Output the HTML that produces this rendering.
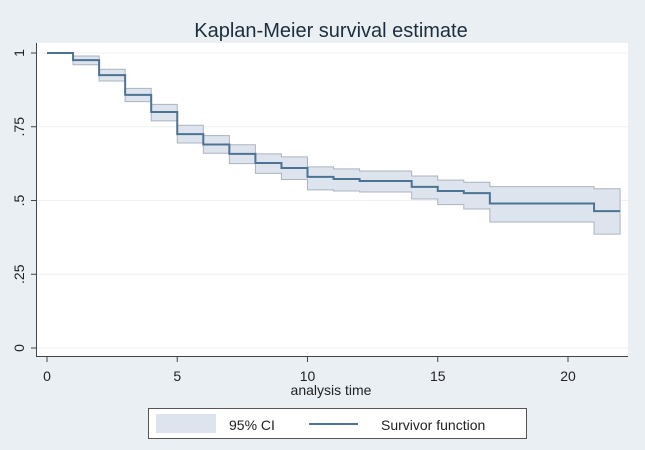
<!DOCTYPE html>
<html><head><meta charset="utf-8"><style>
html,body{margin:0;padding:0;background:#eaeff4;}
svg{display:block;font-family:"Liberation Sans",sans-serif;}
</style></head><body>
<svg id="chart" width="645" height="450">
<rect x="0" y="0" width="645" height="450" fill="#eaeff4"/>
<rect x="37" y="43" width="591" height="313" fill="#ffffff"/>
<text x="331" y="37" text-anchor="middle" font-size="20" fill="#1e2d3c">Kaplan-Meier survival estimate</text>
<g id="grid"></g>
<g id="band"></g>
<g id="line"></g>
<g id="axes"></g>
<text x="331" y="395" text-anchor="middle" font-size="14" fill="#222">analysis time</text>
<g>
<rect x="148.5" y="408.5" width="378" height="30" fill="#fff" stroke="#555" stroke-width="1"/>
<rect x="156" y="414" width="60" height="19" fill="#dde4ee"/>
<text x="229" y="430" font-size="14" fill="#222">95% CI</text>
<line x1="309" y1="424" x2="358" y2="424" stroke="#4d7394" stroke-width="2"/>
<text x="381" y="430" font-size="14" fill="#222">Survivor function</text>
</g>
</svg>
<script>
const times=[0,1,2,3,4,5,6,7,8,9,10,11,12,14,15,16,17,21,22];
const surv=[1,0.976,0.925,0.858,0.8,0.725,0.69,0.658,0.627,0.61,0.58,0.573,0.566,0.546,0.532,0.525,0.49,0.464,0.464];
const lower=[1,0.96,0.905,0.835,0.77,0.695,0.66,0.625,0.592,0.571,0.536,0.532,0.529,0.505,0.486,0.471,0.427,0.386,0.386];
const upper=[1,0.99,0.945,0.88,0.826,0.755,0.72,0.689,0.658,0.648,0.614,0.607,0.6,0.583,0.569,0.562,0.547,0.54,0.54];
const xTicks=[0,5,10,15,20];
const yTicks=[0,0.25,0.5,0.75,1];
const yTickLabels=["0",".25",".5",".75","1"];
const NS="http://www.w3.org/2000/svg";
const X=v=>47+v*26.05;
const Y=v=>348-v*295;
function mk(tag,attrs,parent){const e=document.createElementNS(NS,tag);for(const k in attrs)e.setAttribute(k,attrs[k]);document.getElementById(parent).appendChild(e);return e;}
function stepPts(arr){let p=[];for(let i=0;i<times.length;i++){if(i>0)p.push([X(times[i]),Y(arr[i-1])]);p.push([X(times[i]),Y(arr[i])]);}return p;}
// grid
yTicks.forEach((t,i)=>{
 const g=mk('line',{x1:37,x2:628,y1:Y(t),y2:Y(t),stroke:'#eef1f4','stroke-width':1},'grid');
 
 
});
// band
const up=stepPts(upper),lo=stepPts(lower);
const poly=up.concat(lo.reverse()).map(p=>p.join(',')).join(' ');
const band=mk('polygon',{points:poly,fill:'#dde4ee',stroke:'#a9b4bf','stroke-width':1},'band');


const ln=mk('polyline',{points:stepPts(surv).map(p=>p.join(',')).join(' '),fill:'none',stroke:'#4d7394','stroke-width':2},'line');


// axes
const ya=mk('line',{x1:36.5,x2:36.5,y1:43,y2:357,stroke:'#444','stroke-width':1},'axes');


const xa=mk('line',{x1:36,x2:628,y1:356.5,y2:356.5,stroke:'#444','stroke-width':1},'axes');


xTicks.forEach(t=>{
 const tk=mk('line',{x1:X(t),x2:X(t),y1:357,y2:362,stroke:'#444'},'axes');
 
 
 const tx=mk('text',{x:X(t),y:381,'text-anchor':'middle','font-size':14,fill:'#222'},'axes');
 tx.textContent=t;
 
 
});
yTicks.forEach((t,i)=>{
 const tk=mk('line',{x1:31,x2:36,y1:Y(t),y2:Y(t),stroke:'#444'},'axes');
 
 
 const tx=mk('text',{x:0,y:0,'text-anchor':'middle','font-size':14,fill:'#222',transform:`translate(24,${Y(t)}) rotate(-90)`},'axes');
 tx.textContent=yTickLabels[i];
 
 
});
</script>
</body></html>
